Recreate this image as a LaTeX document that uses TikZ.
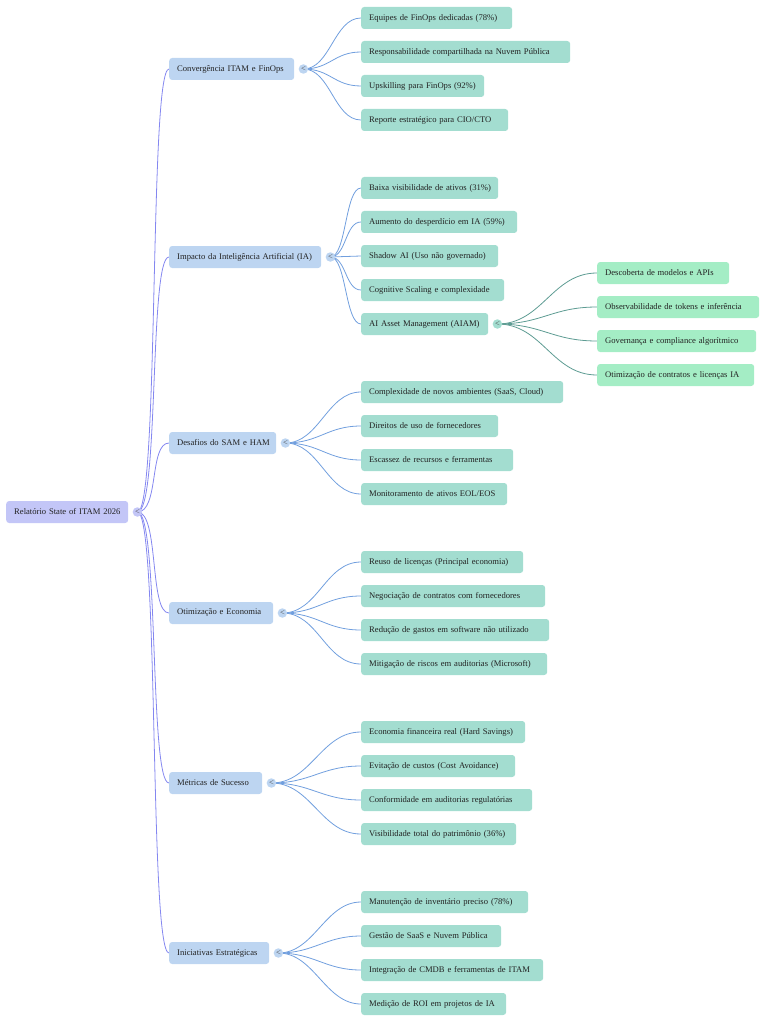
\documentclass[tikz,border=0pt]{standalone}
\usepackage{fontspec}
\setmainfont{Liberation Serif}
\definecolor{rootc}{HTML}{C3C6F7}
\definecolor{l1c}{HTML}{BDD5F1}
\definecolor{l2c}{HTML}{A3DDD0}
\definecolor{l3c}{HTML}{A4EDC5}
\definecolor{textc}{HTML}{222222}
\definecolor{rootline}{HTML}{8487F0}
\definecolor{l1line}{HTML}{719FDE}
\definecolor{l2line}{HTML}{5E9C93}
\pgfdeclarelayer{bg}
\pgfsetlayers{bg,main}
\tikzset{
  base/.style={rounded corners=3pt, minimum height=22, inner xsep=8, inner ysep=0,
    anchor=west, text=textc, align=left, font=\fontsize{8.6}{10}\selectfont},
  wd/.style={text width=#1},
  rootbox/.style={base, fill=rootc},
  lonebox/.style={base, fill=l1c},
  ltwobox/.style={base, fill=l2c},
  lthreebox/.style={base, fill=l3c},
  tog/.style={circle, minimum size=9.5, inner sep=0, font=\fontsize{8.5}{8.5}\selectfont, text=black!70},
  rootlink/.style={draw=rootline, line width=0.8},
  lonelink/.style={draw=l1line, line width=0.8},
  ltwolink/.style={draw=l2line, line width=0.8},
}
\begin{document}
\begin{tikzpicture}[x=1pt,y=-1pt]
\useasboundingbox (0,0) rectangle (780,1024);
% root
\node[rootbox, wd=106pt] (r) at (6,512) {\mbox{Relatório State of ITAM 2026}};
\node[tog, fill=rootc] (t0) at ([xshift=9]r.east) {<};
% level 1
\node[lonebox, wd=109pt] (c1) at (169,69) {\mbox{Convergência ITAM e FinOps}};
\node[lonebox, wd=136pt] (c2) at (169,257) {\mbox{Impacto da Inteligência Artificial (IA)}};
\node[lonebox, wd=91pt] (c3) at (169,443) {\mbox{Desafios do SAM e HAM}};
\node[lonebox, wd=88pt] (c4) at (169,613) {\mbox{Otimização e Economia}};
\node[lonebox, wd=77pt] (c5) at (169,783) {\mbox{Métricas de Sucesso}};
\node[lonebox, wd=84pt] (c6) at (169,953) {\mbox{Iniciativas Estratégicas}};
\foreach \i in {1,...,6}{\node[tog, fill=l1c] (t\i) at ([xshift=9]c\i.east) {<};}
% group 1
\node[ltwobox, wd=135pt] (a11) at (361,18) {\mbox{Equipes de FinOps dedicadas (78\%)}};
\node[ltwobox, wd=193pt] (a12) at (361,52) {\mbox{Responsabilidade compartilhada na Nuvem Pública}};
\node[ltwobox, wd=107pt] (a13) at (361,86) {\mbox{Upskilling para FinOps (92\%)}};
\node[ltwobox, wd=131pt] (a14) at (361,120) {\mbox{Reporte estratégico para CIO/CTO}};
% group 2
\node[ltwobox, wd=121pt] (a21) at (361,188) {\mbox{Baixa visibilidade de ativos (31\%)}};
\node[ltwobox, wd=140pt] (a22) at (361,222) {\mbox{Aumento do desperdício em IA (59\%)}};
\node[ltwobox, wd=121pt] (a23) at (361,256) {\mbox{Shadow AI (Uso não governado)}};
\node[ltwobox, wd=127pt] (a24) at (361,290) {\mbox{Cognitive Scaling e complexidade}};
\node[ltwobox, wd=111pt] (a25) at (361,324) {\mbox{AI Asset Management (AIAM)}};
\node[tog, fill=l2c] (t25) at ([xshift=9]a25.east) {<};
% level 3
\node[lthreebox, wd=116pt] (b1) at (597,273) {\mbox{Descoberta de modelos e APIs}};
\node[lthreebox, wd=146pt] (b2) at (597,307) {\mbox{Observabilidade de tokens e inferência}};
\node[lthreebox, wd=143pt] (b3) at (597,341) {\mbox{Governança e compliance algorítmico}};
\node[lthreebox, wd=141pt] (b4) at (597,375) {\mbox{Otimização de contratos e licenças IA}};
% group 3
\node[ltwobox, wd=186pt] (a31) at (361,392) {\mbox{Complexidade de novos ambientes (SaaS, Cloud)}};
\node[ltwobox, wd=121pt] (a32) at (361,426) {\mbox{Direitos de uso de fornecedores}};
\node[ltwobox, wd=136pt] (a33) at (361,460) {\mbox{Escassez de recursos e ferramentas}};
\node[ltwobox, wd=130pt] (a34) at (361,494) {\mbox{Monitoramento de ativos EOL/EOS}};
% group 4
\node[ltwobox, wd=146pt] (a41) at (361,562) {\mbox{Reuso de licenças (Principal economia)}};
\node[ltwobox, wd=168pt] (a42) at (361,596) {\mbox{Negociação de contratos com fornecedores}};
\node[ltwobox, wd=172pt] (a43) at (361,630) {\mbox{Redução de gastos em software não utilizado}};
\node[ltwobox, wd=170pt] (a44) at (361,664) {\mbox{Mitigação de riscos em auditorias (Microsoft)}};
% group 5
\node[ltwobox, wd=148pt] (a51) at (361,732) {\mbox{Economia financeira real (Hard Savings)}};
\node[ltwobox, wd=138pt] (a52) at (361,766) {\mbox{Evitação de custos (Cost Avoidance)}};
\node[ltwobox, wd=155pt] (a53) at (361,800) {\mbox{Conformidade em auditorias regulatórias}};
\node[ltwobox, wd=139pt] (a54) at (361,834) {\mbox{Visibilidade total do patrimônio (36\%)}};
% group 6
\node[ltwobox, wd=151pt] (a61) at (361,902) {\mbox{Manutenção de inventário preciso (78\%)}};
\node[ltwobox, wd=124pt] (a62) at (361,936) {\mbox{Gestão de SaaS e Nuvem Pública}};
\node[ltwobox, wd=166pt] (a63) at (361,970) {\mbox{Integração de CMDB e ferramentas de ITAM}};
\node[ltwobox, wd=129pt] (a64) at (361,1004) {\mbox{Medição de ROI em projetos de IA}};
% connectors
\begin{pgfonlayer}{bg}
\foreach \i in {1,...,6}{
  \draw[rootlink] (t0.center) .. controls +(22,0) and +(-20,0) .. (c\i.west);
}
\foreach \g/\n/\c in {1/4/27,2/5/16,3/4/34,4/4/36,5/4/40,6/4/36}{
  \foreach \j in {1,...,\n}{
    \draw[lonelink] (t\g.center) .. controls +(\c,0) and +(-\c,0) .. (a\g\j.west);
  }
}
\foreach \j in {1,...,4}{
  \draw[ltwolink] (t25.center) .. controls +(45,0) and +(-45,0) .. (b\j.west);
}
\end{pgfonlayer}
\end{tikzpicture}
\end{document}
